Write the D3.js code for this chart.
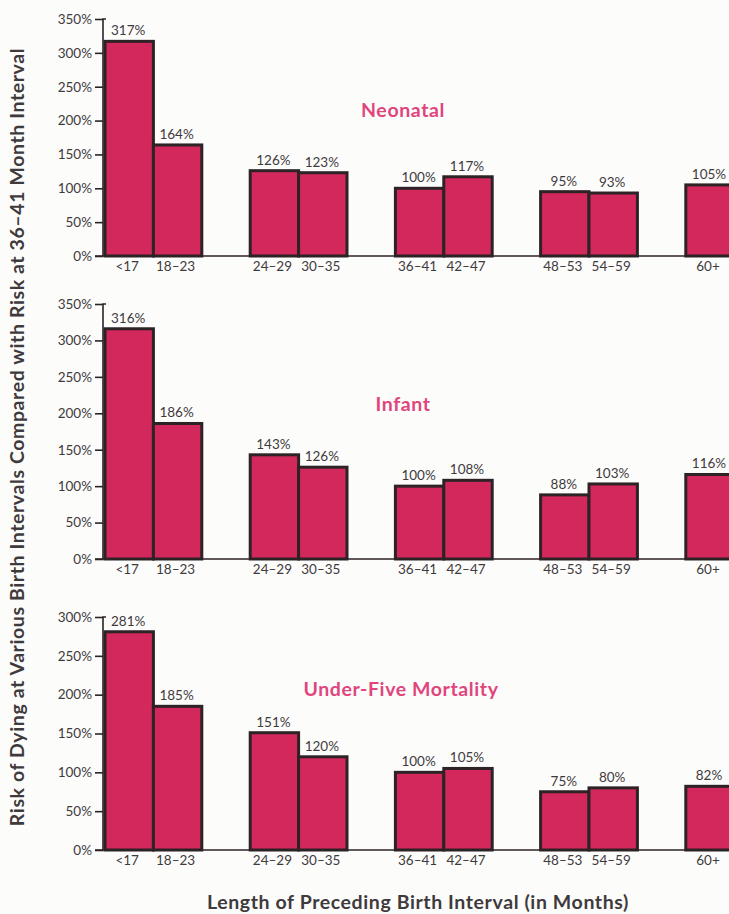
<!DOCTYPE html>
<html>
<head>
<meta charset="utf-8">
<script src="https://cdn.jsdelivr.net/npm/d3@7"></script>
<style>
  html, body { margin: 0; padding: 0; background: #fcfcfb; }
  svg { display: block; }
  text { font-family: Lato, "Open Sans", sans-serif; }
</style>
</head>
<body>
<svg id="chart" width="729" height="914"></svg>
<script>
// Birth interval categories, grouped in pairs along the axis
const intervalGroups = [["<17", "18–23"], ["24–29", "30–35"], ["36–41", "42–47"], ["48–53", "54–59"], ["60+"]];
const categories = intervalGroups.flat();

// Relative risk (%) compared with the 36–41 month interval
const neonatal  = [317, 164, 126, 123, 100, 117, 95, 93, 105];
const infant    = [316, 186, 143, 126, 100, 108, 88, 103, 116];
const underFive = [281, 185, 151, 120, 100, 105, 75, 80, 82];

const panelTitles = ["Neonatal", "Infant", "Under-Five Mortality"];
const ticksTall  = [0, 50, 100, 150, 200, 250, 300, 350];
const ticksShort = [0, 50, 100, 150, 200, 250, 300];

const yTitle = "Risk of Dying at Various Birth Intervals Compared with Risk at 36–41 Month Interval";
const xTitle = "Length of Preceding Birth Interval (in Months)";

const BAR = "#d3285b", EDGE = "#2d2226", INK = "#3f3a3b", PINK = "#e0457d";

const svg = d3.select("#chart");

// slot index of each category: pairs separated by one empty slot
const slotOf = {};
intervalGroups.forEach((g, gi) => g.forEach((c, i) => { slotOf[c] = gi * 3 + i; }));
const slotW = 48.4;
const x = d3.scaleLinear().domain([0, 13]).range([105, 105 + 13 * slotW]);

const panels = [
  { values: neonatal,  title: panelTitles[0], ticks: ticksTall,  y0: 256, yTop: 19,  titleX: 403, titleY: 117 },
  { values: infant,    title: panelTitles[1], ticks: ticksTall,  y0: 559, yTop: 304, titleX: 403, titleY: 411 },
  { values: underFive, title: panelTitles[2], ticks: ticksShort, y0: 850, yTop: 617, titleX: 401, titleY: 696 }
];

const axisX = 103;

panels.forEach(p => {
  const maxTick = d3.max(p.ticks);
  const y = d3.scaleLinear().domain([0, maxTick]).range([p.y0, p.yTop]);
  const g = svg.append("g");
  const rows = categories.map((c, i) => ({ c, v: p.values[i] }));

  // bars
  g.selectAll("rect.bar")
    .data(rows)
    .join("rect")
    .attr("class", "bar")
    .attr("x", d => x(slotOf[d.c]))
    .attr("width", slotW)
    .attr("y", d => y(d.v))
    .attr("height", d => y(0) - y(d.v))
    .attr("fill", BAR)
    .attr("stroke", EDGE)
    .attr("stroke-width", 3);

  // value labels
  g.selectAll("text.val")
    .data(rows)
    .join("text")
    .attr("class", "val")
    .attr("x", d => x(slotOf[d.c]) + slotW / 2 - 1)
    .attr("y", d => y(d.v) - 6)
    .attr("text-anchor", "middle")
    .attr("font-size", 13.5)
    .attr("fill", INK)
    .text(d => d.v + "%");

  // left axis
  const yAxis = d3.axisLeft(y)
    .tickValues(p.ticks)
    .tickFormat(d => d + "%")
    .tickSize(8)
    .tickPadding(3);
  const ya = g.append("g").attr("transform", `translate(${axisX},0)`).call(yAxis);
  ya.select(".domain").attr("d", `M3,${y(maxTick)}H0V${y(0)}`).attr("stroke", EDGE).attr("stroke-width", 1.6);
  ya.selectAll(".tick line").attr("stroke", EDGE).attr("stroke-width", 1.6);
  ya.selectAll(".tick text").attr("fill", INK).attr("font-size", 13.5).attr("font-family", "Lato, 'Open Sans', sans-serif");

  // baseline
  g.append("line")
    .attr("x1", axisX - 8).attr("x2", 729)
    .attr("y1", y(0)).attr("y2", y(0))
    .attr("stroke", EDGE).attr("stroke-width", 1.6);

  // category labels
  g.selectAll("text.cat")
    .data(categories)
    .join("text")
    .attr("class", "cat")
    .attr("x", c => x(slotOf[c]) + slotW / 2 - 2)
    .attr("y", p.y0 + 15)
    .attr("text-anchor", "middle")
    .attr("font-size", 13.5)
    .attr("fill", INK)
    .text(c => c);

  // panel title
  g.append("text")
    .attr("x", p.titleX).attr("y", p.titleY)
    .attr("text-anchor", "middle")
    .attr("font-size", 19.5)
    .attr("letter-spacing", 0.6)
    .attr("font-weight", "bold")
    .attr("fill", PINK)
    .text(p.title);
});

// axis titles
svg.append("text")
  .attr("transform", "translate(24,437) rotate(-90)")
  .attr("text-anchor", "middle")
  .attr("font-size", 19.5)
  .attr("letter-spacing", 0.6)
  .attr("font-weight", "bold")
  .attr("fill", INK)
  .text(yTitle);

svg.append("text")
  .attr("x", 418).attr("y", 909)
  .attr("text-anchor", "middle")
  .attr("font-size", 19.5)
  .attr("letter-spacing", 0.6)
  .attr("font-weight", "bold")
  .attr("fill", INK)
  .text(xTitle);
</script>
</body>
</html>
